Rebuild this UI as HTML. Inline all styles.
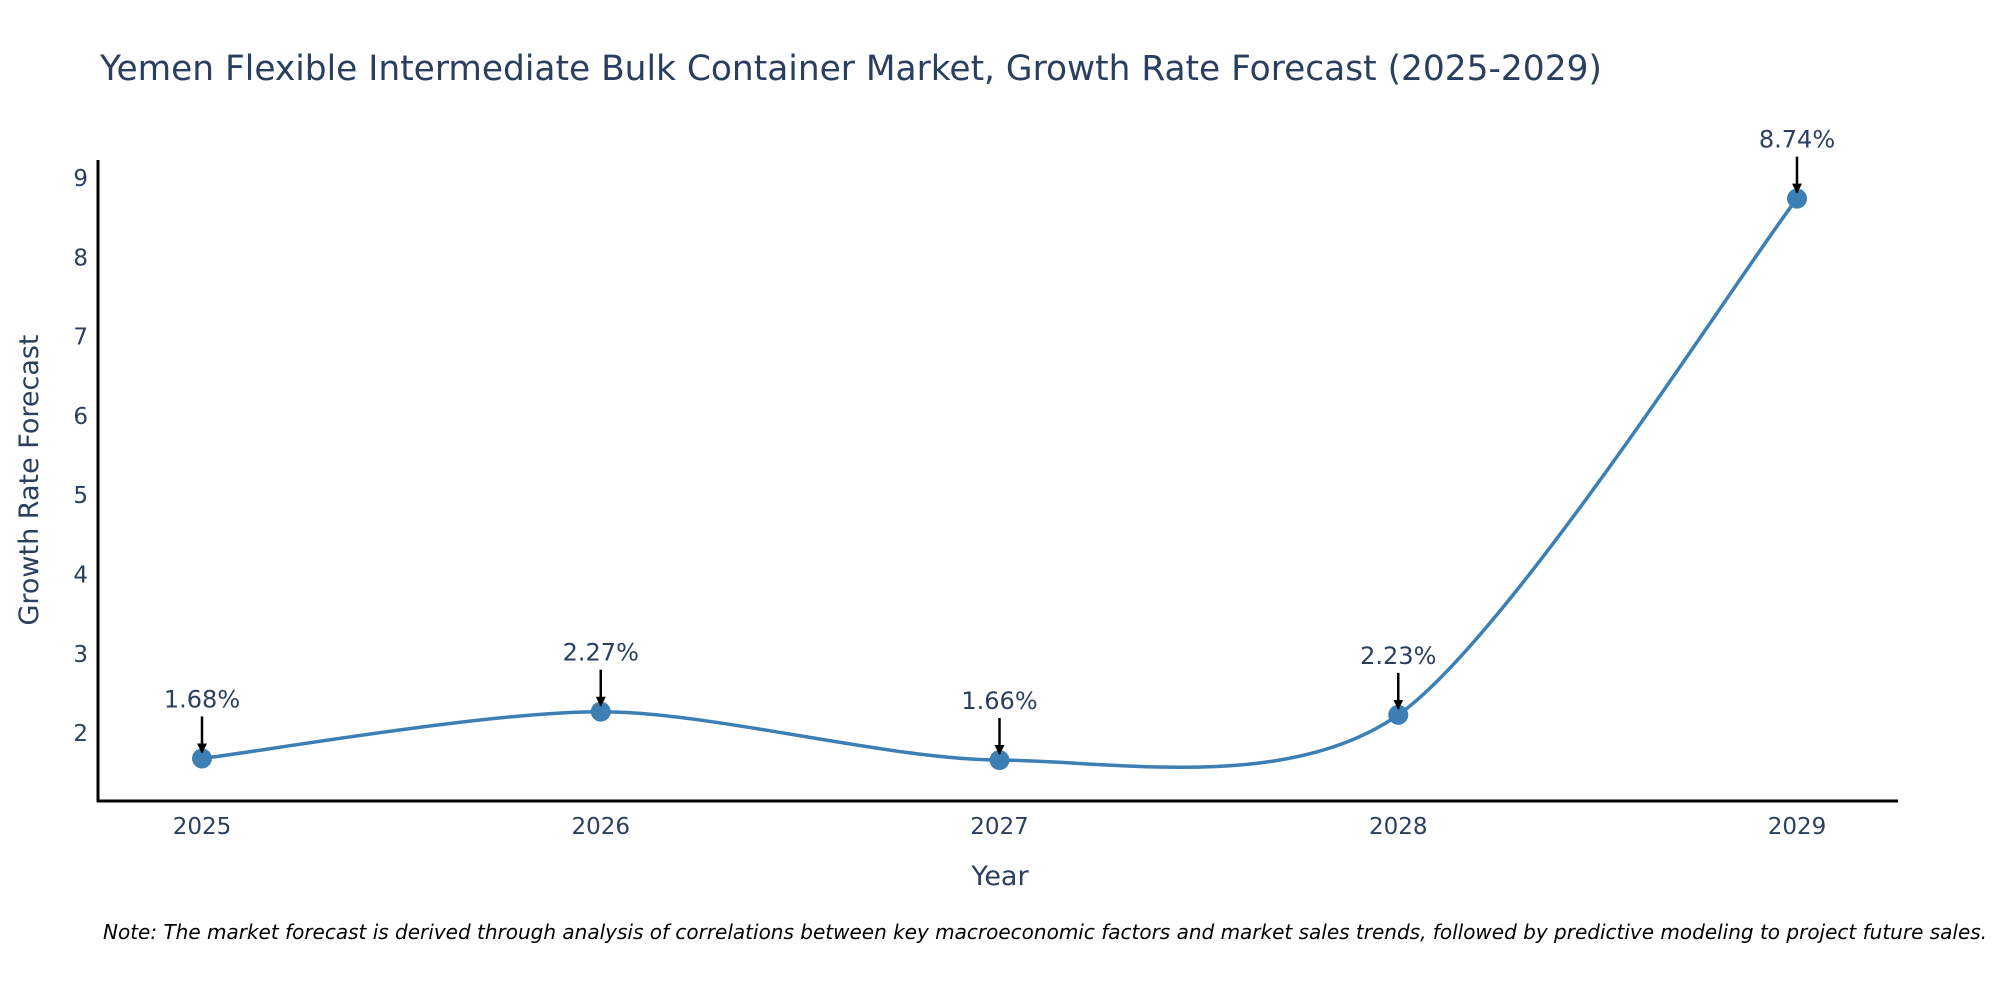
<!DOCTYPE html>
<html><head><meta charset="utf-8"><style>
body{margin:0;background:#fff;}
svg{display:block;font-family:"DejaVu Sans","Liberation Sans",sans-serif;}
</style></head><body>
<svg id="chart" width="2000" height="1000" viewBox="0 0 2000 1000">
<defs><marker id="ah" viewBox="0 0 10 10" refX="9" refY="5" markerWidth="4" markerHeight="4" orient="auto"><path d="M0,0L10,5L0,10z" fill="#000"/></marker></defs>
<text x="100" y="80" font-size="34.4" fill="#2a3f5f">Yemen Flexible Intermediate Bulk Container Market, Growth Rate Forecast (2025-2029)</text>
<g id="yticks"></g><g id="xticks"></g>
<line x1="98" y1="160" x2="98" y2="802" stroke="#000" stroke-width="3"/>
<line x1="97" y1="801" x2="1898" y2="801" stroke="#000" stroke-width="3"/>
<text x="0" y="0" transform="translate(38,480) rotate(-90)" text-anchor="middle" font-size="27" fill="#2a3f5f">Growth Rate Forecast</text>
<text x="1000" y="885" text-anchor="middle" font-size="27" fill="#2a3f5f">Year</text>
<g id="series"></g>
<text x="103" y="939" font-size="20" font-style="italic" fill="#000">Note: The market forecast is derived through analysis of correlations between key macroeconomic factors and market sales trends, followed by predictive modeling to project future sales.</text>
</svg>
<script>
const years = [2025, 2026, 2027, 2028, 2029];
const values = [1.68, 2.27, 1.66, 2.23, 8.74];
const labels = ["1.68%", "2.27%", "1.66%", "2.23%", "8.74%"];
const yTicks = [2, 3, 4, 5, 6, 7, 8, 9];
const NS = "http://www.w3.org/2000/svg";
const xs = v => 202 + (v - 2025) * 398.75;
const ys = v => 178 + (9 - v) * 79.3;
function mk(t, a, p){const e=document.createElementNS(NS,t);for(const k in a)e.setAttribute(k,a[k]);p.appendChild(e);return e;}
const yg=document.getElementById('yticks');
yTicks.forEach(v=>{const t=mk('text',{x:88,y:ys(v)+8,'text-anchor':'end','font-size':23,fill:'#2a3f5f'},yg);t.textContent=v;

});
const xg=document.getElementById('xticks');
years.forEach(v=>{const t=mk('text',{x:xs(v),y:834,'text-anchor':'middle','font-size':23,fill:'#2a3f5f'},xg);t.textContent=v;

});
const sg=document.getElementById('series');
const P=years.map((y,i)=>[xs(y),ys(values[i])]);
let d=`M${P[0][0]},${P[0][1]}`;const k=0.14;
for(let i=0;i<P.length-1;i++){const p0=P[Math.max(i-1,0)],p1=P[i],p2=P[i+1],p3=P[Math.min(i+2,P.length-1)];
const c1=[p1[0]+(p2[0]-p0[0])*k,p1[1]+(p2[1]-p0[1])*k],c2=[p2[0]-(p3[0]-p1[0])*k,p2[1]-(p3[1]-p1[1])*k];
d+=` C${c1[0]},${c1[1]} ${c2[0]},${c2[1]} ${p2[0]},${p2[1]}`;}
const ln=mk('path',{d:d,fill:'none',stroke:'#3b7fb5','stroke-width':3.5},sg);


P.forEach((p,i)=>{const c=mk('circle',{cx:p[0],cy:p[1],r:10,fill:'#3b7fb5'},sg);


const a=mk('line',{x1:p[0],y1:p[1]-42,x2:p[0],y2:p[1]-6,stroke:'#000','stroke-width':2.5,'marker-end':'url(#ah)'},sg);


const t=mk('text',{x:p[0],y:p[1]-51,'text-anchor':'middle','font-size':24,fill:'#2a3f5f'},sg);t.textContent=labels[i];

});
</script>
</body></html>
